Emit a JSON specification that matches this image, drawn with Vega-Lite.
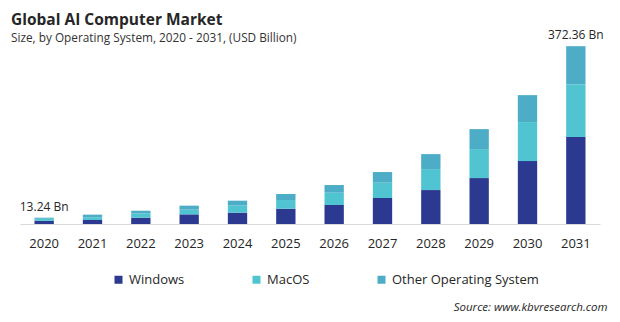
{
  "$schema": "https://vega.github.io/schema/vega-lite/v6.json",
  "width": 580,
  "height": 191,
  "autosize": {"type": "none"},
  "padding": {"left": 20, "top": 33, "right": 20, "bottom": 98},
  "background": "white",
  "config": {"font": "Open Sans", "view": {"stroke": null}},
  "title": {
    "text": "Global AI Computer Market",
    "subtitle": "Size, by Operating System, 2020 - 2031, (USD Billion)",
    "anchor": "start",
    "frame": "group",
    "dx": -9,
    "offset": -16,
    "fontSize": 15.5,
    "fontWeight": "bold",
    "color": "#262626",
    "subtitleFontSize": 11.8,
    "subtitleColor": "#333333",
    "subtitlePadding": 5
  },
  "datasets": {
    "bars": [
      {"year": "2020", "os": "Windows", "value": 6.6},
      {"year": "2020", "os": "MacOS", "value": 4.4},
      {"year": "2020", "os": "Other Operating System", "value": 2.24},
      {"year": "2021", "os": "Windows", "value": 8.4},
      {"year": "2021", "os": "MacOS", "value": 5.8},
      {"year": "2021", "os": "Other Operating System", "value": 5.4},
      {"year": "2022", "os": "Windows", "value": 13.2},
      {"year": "2022", "os": "MacOS", "value": 9.0},
      {"year": "2022", "os": "Other Operating System", "value": 5.6},
      {"year": "2023", "os": "Windows", "value": 20.2},
      {"year": "2023", "os": "MacOS", "value": 9.8},
      {"year": "2023", "os": "Other Operating System", "value": 8.4},
      {"year": "2024", "os": "Windows", "value": 23.7},
      {"year": "2024", "os": "MacOS", "value": 15.3},
      {"year": "2024", "os": "Other Operating System", "value": 9.8},
      {"year": "2025", "os": "Windows", "value": 32.0},
      {"year": "2025", "os": "MacOS", "value": 18.2},
      {"year": "2025", "os": "Other Operating System", "value": 12.6},
      {"year": "2026", "os": "Windows", "value": 39.8},
      {"year": "2026", "os": "MacOS", "value": 25.8},
      {"year": "2026", "os": "Other Operating System", "value": 16.0},
      {"year": "2027", "os": "Windows", "value": 54.4},
      {"year": "2027", "os": "MacOS", "value": 32.1},
      {"year": "2027", "os": "Other Operating System", "value": 22.3},
      {"year": "2028", "os": "Windows", "value": 71.1},
      {"year": "2028", "os": "MacOS", "value": 43.9},
      {"year": "2028", "os": "Other Operating System", "value": 31.4},
      {"year": "2029", "os": "Windows", "value": 96.2},
      {"year": "2029", "os": "MacOS", "value": 60.7},
      {"year": "2029", "os": "Other Operating System", "value": 41.8},
      {"year": "2030", "os": "Windows", "value": 131.8},
      {"year": "2030", "os": "MacOS", "value": 81.6},
      {"year": "2030", "os": "Other Operating System", "value": 56.5},
      {"year": "2031", "os": "Windows", "value": 182.0},
      {"year": "2031", "os": "MacOS", "value": 110.9},
      {"year": "2031", "os": "Other Operating System", "value": 79.46}
    ],
    "labels": [
      {"year": "2020", "total": 13.24, "label": "13.24 Bn"},
      {"year": "2031", "total": 372.36, "label": "372.36 Bn"}
    ]
  },
  "layer": [
    {
      "data": {"name": "bars"},
      "transform": [
        {"calculate": "indexof(['Windows', 'MacOS', 'Other Operating System'], datum.os)", "as": "stackKey"}
      ],
      "mark": {"type": "bar"},
      "encoding": {
        "x": {
          "field": "year",
          "type": "ordinal",
          "scale": {"paddingInner": 0.6, "paddingOuter": 0.3},
          "axis": {
            "title": "Source: www.kbvresearch.com",
            "labelAngle": 0,
            "ticks": false,
            "tickSize": 0,
            "labelPadding": 13,
            "labelFontSize": 13,
            "labelColor": "#262626",
            "domainColor": "#d9d9d9",
            "titleFontStyle": "italic",
            "titleFontSize": 11.5,
            "titleFontWeight": "normal",
            "titleAnchor": "end",
            "titleAlign": "right",
            "titleX": 587,
            "titleY": 86,
            "titleBaseline": "alphabetic",
            "titleColor": "#262626"
          }
        },
        "y": {
          "field": "value",
          "type": "quantitative",
          "stack": "zero",
          "scale": {"domain": [0, 400], "nice": false},
          "axis": null
        },
        "order": {"field": "stackKey", "type": "quantitative", "sort": "ascending"},
        "color": {
          "field": "os",
          "type": "nominal",
          "sort": ["Windows", "MacOS", "Other Operating System"],
          "scale": {
            "domain": ["Windows", "MacOS", "Other Operating System"],
            "range": ["#2b3990", "#50c4d0", "#4dadc6"]
          },
          "legend": {
            "orient": "none",
            "direction": "horizontal",
            "legendX": 92,
            "legendY": 240,
            "title": null,
            "symbolType": "square",
            "symbolSize": 64,
            "symbolStrokeWidth": 0,
            "labelFontSize": 13,
            "labelOffset": 4,
            "columnPadding": 65,
            "labelColor": "#262626",
            "padding": 0
          }
        }
      }
    },
    {
      "data": {"name": "labels"},
      "mark": {"type": "text", "dy": -7, "baseline": "alphabetic", "fontSize": 12, "color": "#262626"},
      "encoding": {
        "x": {"field": "year", "type": "ordinal"},
        "y": {"field": "total", "type": "quantitative"},
        "text": {"field": "label"}
      }
    }
  ]
}
